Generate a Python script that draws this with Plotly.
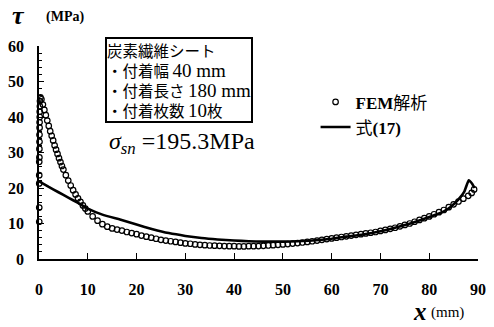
import plotly.graph_objects as go

# FEM analysis points (x in mm, tau in MPa)
fem_x = [0.05, 0.05, 0.05, 0.05, 0.05, 0.08, 0.08, 0.1, 0.1, 0.12, 0.12, 0.15, 0.15, 0.18, 0.2,
         0.3, 0.5, 0.8, 1.1, 1.4, 1.7, 2.0, 2.3, 2.6, 2.9, 3.2, 3.5, 3.8, 4.1, 4.4, 4.7, 5.0,
         5.5, 6.0, 6.5, 7.0, 7.5, 8.0, 8.5, 9.0, 9.5, 10, 11, 12, 13, 14, 15, 16, 17, 18, 19,
         20, 21, 22, 23, 24, 25, 26, 27, 28, 29, 30, 31, 32, 33, 34, 35, 36, 37, 38, 39, 40,
         41, 42, 43, 44, 45, 46, 47, 48, 49, 50, 51, 52, 53, 54, 55, 56, 57, 58, 59, 60, 61,
         62, 63, 64, 65, 66, 67, 68, 69, 70, 71, 72, 73, 74, 75, 76, 77, 78, 79, 80, 81, 82,
         83, 84, 85, 86, 87, 88, 88.7, 89.2]
fem_y = [10.5, 14.5, 21.3, 23.6, 27.4, 28.6, 31.0, 33.0, 35.0, 37.0, 38.5, 40.0, 41.5, 43.0, 44.5,
         45.5, 45.0, 43.5, 42.0, 40.5, 39.0, 37.5, 36.0, 34.7, 33.4, 32.0, 30.8, 29.6, 28.4, 27.3, 26.2, 25.2,
         23.6, 22.1, 20.7, 19.4, 18.2, 17.1, 16.1, 15.1, 14.2, 13.4, 12.0, 10.8, 9.8, 9.1, 8.6, 8.3, 8.0, 7.6, 7.3,
         7.0, 6.6, 6.3, 6.0, 5.7, 5.4, 5.2, 5.0, 4.8, 4.6, 4.4, 4.3, 4.1, 4.0, 3.9, 3.8, 3.75, 3.7, 3.65, 3.6, 3.6,
         3.55, 3.55, 3.6, 3.6, 3.65, 3.7, 3.8, 3.9, 4.0, 4.1, 4.2, 4.35, 4.5, 4.65, 4.8, 5.0, 5.2, 5.4, 5.6, 5.8, 6.0,
         6.2, 6.4, 6.6, 6.8, 7.0, 7.2, 7.4, 7.6, 7.9, 8.2, 8.5, 8.8, 9.2, 9.6, 10.0, 10.5, 11.0, 11.5, 12.0, 12.6, 13.2,
         13.8, 14.6, 15.4, 16.2, 17.0, 17.8, 18.6, 19.6]

# Equation (17)
eq_x = [0, 2, 4, 6, 8, 10, 13, 16.6, 20, 23.3, 26.6, 30, 33.3, 36.6, 40, 43, 46, 50, 53, 56,
        60, 63, 66.4, 70, 73, 76.3, 79.6, 83, 84.5, 86, 87.2, 88.1, 88.8, 89.3]
eq_y = [21.9, 20.3, 18.8, 17.3, 15.8, 14.2, 12.5, 11.1, 9.7, 8.4, 7.3, 6.5, 5.9, 5.5, 5.2, 5.0, 4.9, 4.9, 5.0, 5.2,
        5.7, 6.3, 6.9, 7.8, 8.8, 10.1, 11.6, 13.4, 14.8, 16.8, 19.0, 22.2, 21.2, 20.0]

x_ticks = [0, 10, 20, 30, 40, 50, 60, 70, 80, 90]
x_labels = ["<b>%d</b>" % v for v in x_ticks]
y_ticks = [0, 10, 20, 30, 40, 50, 60]
y_labels = ["<b>%d</b>" % v for v in y_ticks]

serif = "Liberation Serif, Noto Sans CJK JP"
cjk = "Noto Sans CJK JP, Liberation Serif"


def num(s):
    return '<span style="font-family:Liberation Serif;font-size:19px">%s</span>' % s


box_lines = ["炭素繊維シート",
             "・付着幅 " + num("40 mm"),
             "・付着長さ " + num("180 mm"),
             "・付着枚数 " + num("10") + "枚"]

fig = go.Figure()
fig.add_trace(go.Scatter(
    x=fem_x, y=fem_y, mode="markers", name="<b>FEM</b>解析",
    marker=dict(symbol="circle-open", size=5.5, color="black", line=dict(width=1.2, color="black")),
    cliponaxis=False,
))
fig.add_trace(go.Scatter(
    x=eq_x, y=eq_y, mode="lines", name="式<b>(17)</b>",
    line=dict(color="black", width=2.6, shape="spline", smoothing=0.4),
    cliponaxis=False,
))

fig.update_layout(
    width=494, height=327,
    margin=dict(l=34, r=8, t=46, b=68),
    plot_bgcolor="white", paper_bgcolor="white",
    showlegend=True,
    legend=dict(x=0.63, y=0.82, xanchor="left", yanchor="top",
                font=dict(family=serif, size=17, color="black"),
                bgcolor="rgba(0,0,0,0)", itemwidth=30, tracegroupgap=0,
                itemsizing="trace"),
    xaxis=dict(range=[0, 90], tickvals=x_ticks, ticktext=x_labels, showgrid=False, zeroline=False,
               showline=True, linecolor="black", linewidth=1.5,
               ticks="inside", ticklen=6, tickwidth=1.2, tickcolor="black",
               ticklabelstandoff=15,
               tickfont=dict(family=serif, size=16, color="black")),
    yaxis=dict(range=[0, 60], tickvals=y_ticks, ticktext=y_labels, showgrid=False, zeroline=False,
               showline=True, linecolor="black", linewidth=1.5,
               ticks="inside", ticklen=5, tickwidth=1.2, tickcolor="black",
               minor=dict(dtick=2, ticks="inside", ticklen=3, tickwidth=1, tickcolor="black"),
               ticklabelstandoff=10,
               tickfont=dict(family=serif, size=16, color="black")),
)

# Axis titles
fig.add_annotation(xref="paper", yref="paper", x=-0.066, y=1.145, xanchor="left", yanchor="middle",
                   text="<b><i>τ</i></b>", showarrow=False,
                   font=dict(family=serif, size=26, color="black"))
fig.add_annotation(xref="paper", yref="paper", x=0.012, y=1.137, xanchor="left", yanchor="middle",
                   text="<b>(MPa)</b>", showarrow=False,
                   font=dict(family=serif, size=14, color="black"))
fig.add_annotation(xref="paper", yref="paper", x=0.848, y=-0.245, xanchor="left", yanchor="middle",
                   text="<b><i>x</i></b>", showarrow=False,
                   font=dict(family=serif, size=25, color="black"))
fig.add_annotation(xref="paper", yref="paper", x=0.888, y=-0.25, xanchor="left", yanchor="middle",
                   text="(mm)", showarrow=False,
                   font=dict(family=serif, size=15, color="black"))

# Info box
fig.add_annotation(xref="paper", yref="paper", x=0.151, y=1.043, xanchor="left", yanchor="top",
                   text="<br>".join(box_lines),
                   align="left", showarrow=False,
                   bordercolor="black", borderwidth=2, borderpad=0, bgcolor="white",
                   font=dict(family=cjk, size=15.5, color="black"))
fig.add_annotation(xref="paper", yref="paper", x=0.155, y=0.545, xanchor="left", yanchor="middle",
                   text="<i>σ</i><sub><i>sn</i></sub> =195.3MPa", showarrow=False,
                   font=dict(family=serif, size=24, color="black"))

fig.write_html("out.html")
